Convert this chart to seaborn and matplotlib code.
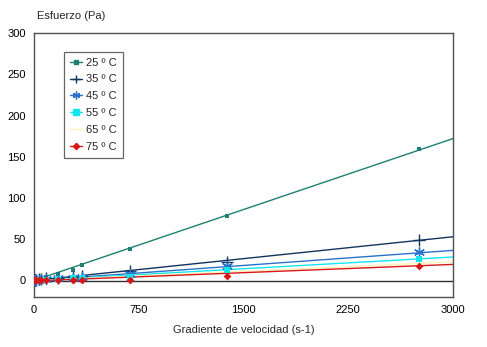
import numpy as np
import pandas as pd
import matplotlib
matplotlib.use("Agg")
import matplotlib.pyplot as plt
import seaborn as sns
from matplotlib.lines import Line2D

# ---- data ----
shear = [3, 6, 10, 17, 34, 51, 86, 172, 276, 345, 690, 1380, 2760]
s25 = [0.4, 0.7, 1.0, 1.5, 2.4, 3.2, 4.8, 7.3, 12.5, 18.2, 38.0, 78.0, 159.0]
s35 = [0.3, 0.5, 0.7, 1.0, 1.5, 1.9, 2.5, 3.4, 4.2, 5.2, 11.3, 22.5, 49.5]
s45 = [0.2, 0.4, 0.5, 0.7, 1.0, 1.3, 1.7, 2.6, 3.5, 4.0, 7.5, 17.0, 34.0]
s55 = [0.2, 0.3, 0.4, 0.5, 0.7, 0.9, 1.2, 1.8, 2.5, 2.8, 4.5, 12.5, 26.5]
s65 = [0.1, 0.2, 0.3, 0.4, 0.5, 0.7, 0.9, 1.4, 2.0, 2.4, 3.5, 9.5, 22.0]
s75 = [0.1, 0.1, 0.2, 0.3, 0.4, 0.5, 0.6, 0.8, 1.0, 1.2, 0.8, 5.0, 17.5]
# trend-line values read at the ends of the axis (x = 0 and x = 3000)
trend_x = [0, 3000]
trend25 = [0, 172.0]
trend35 = [0, 53.0]
trend45 = [0, 36.5]
trend55 = [0, 28.5]
trend65 = [0, 22.5]
trend75 = [-0.5, 19.5]
labels = ["25 º C", "35 º C", "45 º C", "55 º C", "65 º C", "75 º C"]
series = [s25, s35, s45, s55, s65, s75]
trends = [trend25, trend35, trend45, trend55, trend65, trend75]
x_ticks = [0, 750, 1500, 2250, 3000]
y_ticks = [0, 50, 100, 150, 200, 250, 300]

colors = ["#1f7f72", "#13335f", "#2a72c8", "#14e6f0", "#fff3b8", "#d81818"]
markers = ["s", "+", (6, 2, 0), "s", None, "D"]
msizes = [3, 8, 7, 5, 0, 4]

sns.set_style("white")
plt.rcParams["font.family"] = ["Liberation Sans", "DejaVu Sans"]

fig = plt.figure(figsize=(4.87, 3.47), dpi=100)
ax = fig.add_axes([34 / 487, 1 - 297 / 347, (453 - 34) / 487, (297 - 33) / 347])

handles = []
for lab, ys, tr, c, m, ms in zip(labels, series, trends, colors, markers, msizes):
    fit = pd.DataFrame({"x": trend_x, "y": tr})
    sns.lineplot(data=fit, x="x", y="y", color=c, linewidth=1.0, ax=ax, zorder=2)
    if m is not None:
        pts = pd.DataFrame({"x": shear, "y": ys})
        lw = 1.0 if m in ["+", (6, 2, 0)] else 0
        sns.scatterplot(data=pts, x="x", y="y", marker=m, s=ms ** 2, color=c,
                        edgecolor=c, linewidth=lw, ax=ax, zorder=3)
    handles.append(Line2D([0], [0], color=c, lw=1.0, marker=m, markersize=ms * 0.8 if m else 0,
                          markeredgecolor=c, markerfacecolor=c))

# zero line
zero = pd.DataFrame({"x": [0, 3000], "y": [0, 0]})
sns.lineplot(data=zero, x="x", y="y", color="#303030", linewidth=1.0, ax=ax, zorder=1)

ax.set_xlim(0, 3000)
ax.set_ylim(-20, 300)
ax.set_xticks(x_ticks)
ax.set_yticks(y_ticks)
ax.tick_params(direction="in", length=4, width=0.8, colors="#404040", labelcolor="black",
               labelsize=8, pad=6)
for sp in ax.spines.values():
    sp.set_color("#505050")
    sp.set_linewidth(1.0)
    sp.set_visible(True)
ax.set_xlabel("")
ax.set_ylabel("")

fig.text(37 / 487, 1 - 16 / 347, "Esfuerzo (Pa)", fontsize=8, ha="left", va="center")
fig.text((34 + 453) / 2 / 487, 1 - 330 / 347, "Gradiente de velocidad (s-1)", fontsize=8,
         ha="center", va="center")

leg = ax.legend(handles, labels, loc="upper left", bbox_to_anchor=(30 / 419, (297 - 52) / 264),
                fontsize=8, frameon=True, fancybox=False, handlelength=1.1,
                handletextpad=0.4, labelspacing=0.62, borderpad=0.5, borderaxespad=0)
leg.get_frame().set_edgecolor("#404040")
leg.get_frame().set_linewidth(0.9)

fig.savefig("out.png", dpi=100)
